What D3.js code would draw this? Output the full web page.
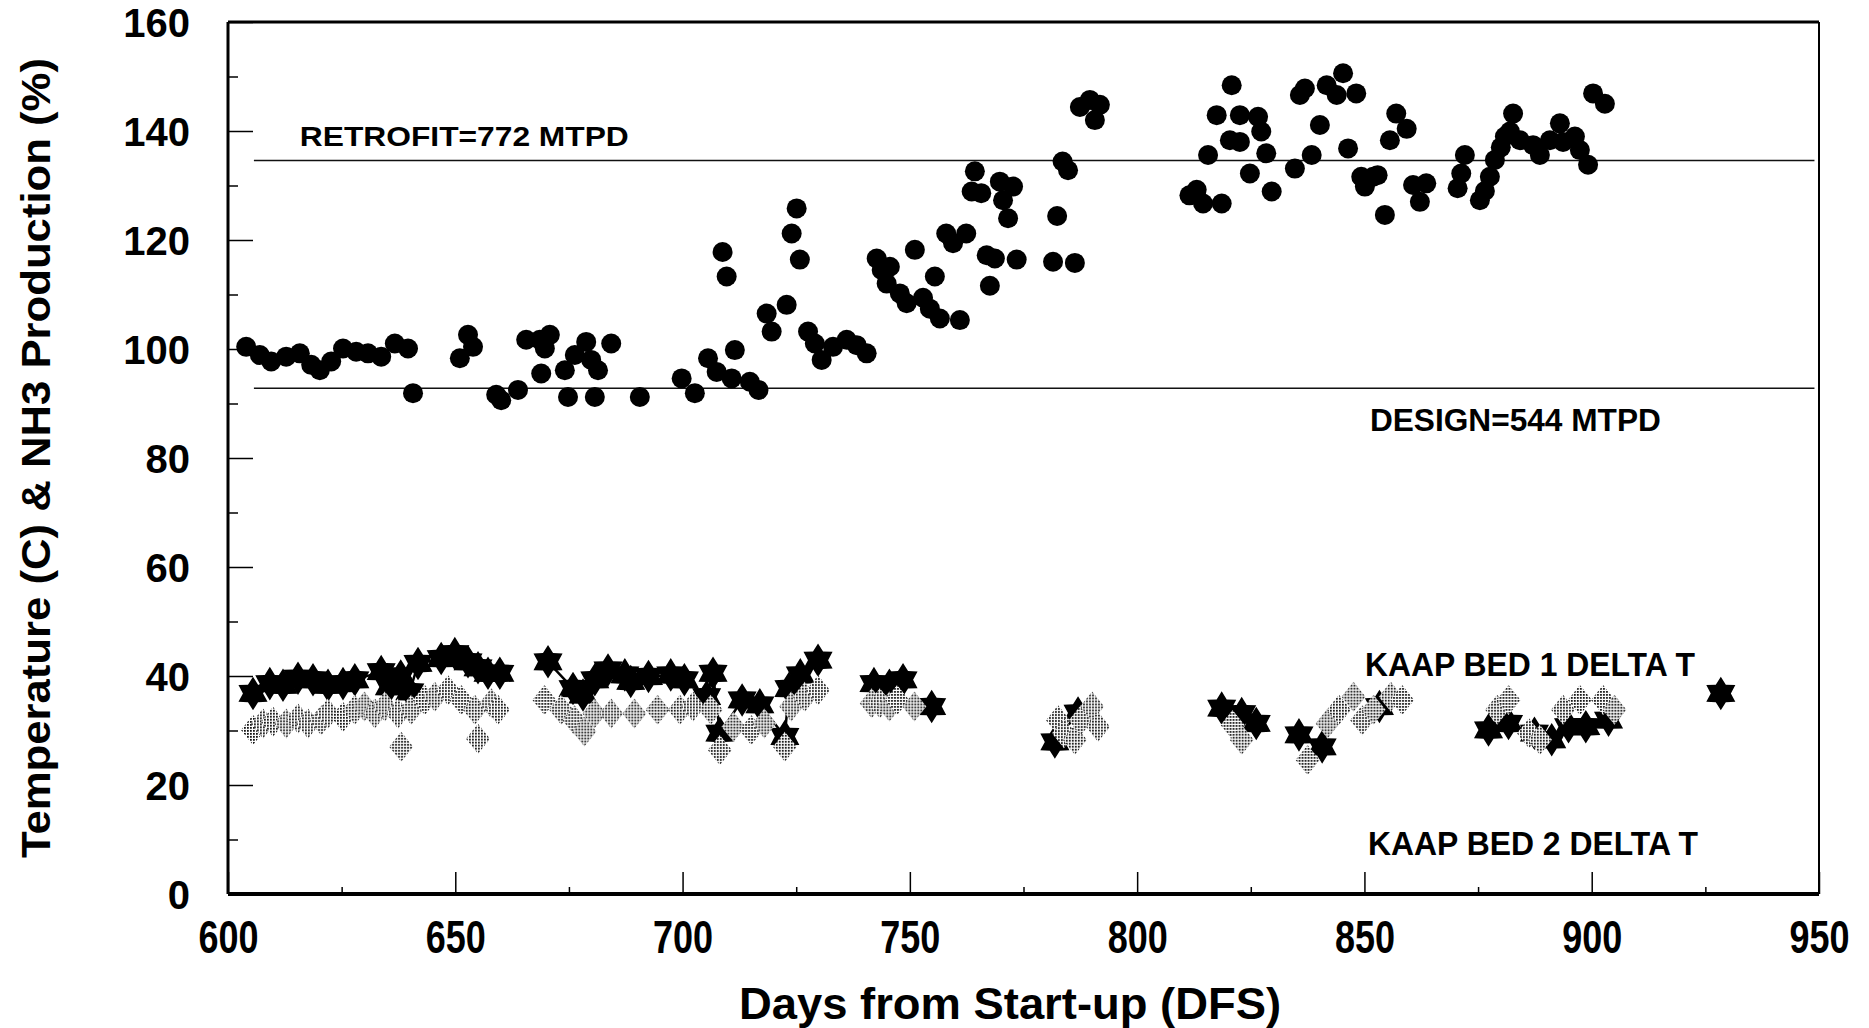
<!DOCTYPE html>
<html>
<head>
<meta charset="utf-8">
<script src="https://cdn.jsdelivr.net/npm/d3@7"></script>
<style>
  body { margin: 0; background: #fff; }
  text { font-family: "Liberation Sans", Arial, sans-serif; font-weight: bold; fill: #000; }
</style>
</head>
<body>
<div id="chart"></div>
<script>
// NH3 production (% of design), filled circles
var nh3Days = [604.0,607.0,609.5,612.8,615.8,618.3,620.2,622.7,625.3,628.2,630.8,633.7,636.7,639.6,640.7,
  651.0,652.8,653.9,659.0,660.1,663.8,665.6,668.6,668.9,669.7,670.8,674.1,674.8,676.3,678.8,679.9,680.7,681.4,684.3,
  690.6,699.8,702.7,705.6,707.5,708.8,709.7,710.8,711.5,714.8,716.7,718.5,719.6,722.9,724.0,725.1,725.8,727.6,729.1,
  730.6,733.1,736.1,738.3,740.5,742.7,743.8,744.9,745.6,747.8,749.3,751.1,752.9,754.4,755.5,756.6,758.0,759.5,761.0,
  762.4,763.6,764.3,765.7,766.9,767.6,768.7,769.8,770.5,771.6,772.7,773.5,781.5,782.4,783.6,784.8,786.3,787.4,789.6,
  790.7,791.8,811.5,813.1,814.5,815.6,817.5,818.6,820.4,820.8,822.6,822.6,824.8,826.6,827.3,828.4,829.6,834.7,835.8,
  836.9,838.4,840.2,841.7,843.9,845.3,846.4,848.2,849.3,850.1,851.9,852.9,854.5,855.6,857.0,859.3,860.7,862.2,863.6,
  870.5,871.3,872.1,875.4,876.5,877.6,878.7,880.0,880.9,882.0,882.7,884.2,887.1,888.6,890.8,893.0,893.7,896.3,897.4,
  899.2,900.3,902.9];
var nh3Values = [100.4,98.9,97.7,98.6,99.2,97.1,96.1,97.7,100.1,99.5,99.2,98.6,101.0,100.1,91.9,
  98.3,102.6,100.4,91.6,90.6,92.5,101.7,101.7,95.5,100.1,102.6,96.1,91.2,98.9,101.3,98.0,91.2,96.1,101.0,
  91.2,94.6,91.9,98.3,95.8,117.8,113.3,94.6,99.8,94.0,92.5,106.5,103.2,108.1,121.2,125.8,116.4,103.2,101.0,
  98.0,100.4,101.7,100.7,99.2,116.6,114.5,112.0,115.1,110.2,108.4,118.2,109.4,107.4,113.3,105.6,121.2,119.4,105.3,
  121.2,128.9,132.6,128.6,117.2,111.6,116.6,130.7,127.3,124.0,129.8,116.4,116.0,124.4,134.4,132.8,115.8,144.4,145.7,
  142.0,144.8,128.2,129.2,126.7,135.6,142.9,126.7,138.3,148.4,138.0,142.9,132.2,142.6,139.9,135.9,128.9,133.1,146.6,
  147.8,135.6,141.1,148.4,146.6,150.6,136.8,146.9,131.6,129.8,131.6,131.9,124.6,138.3,143.2,140.4,130.1,127.0,130.4,
  129.5,132.2,135.6,127.3,129.0,131.6,134.7,137.0,139.0,139.9,143.2,138.3,137.4,135.6,138.3,141.4,138.0,139.0,136.5,
  133.8,146.9,145.0];

// KAAP bed 1 delta T (C), black stars
var bed1Days = [605.5,609.2,612.1,615.4,618.7,622.0,625.3,627.9,633.7,635.5,638.0,640.0,641.8,646.9,649.9,652.8,655.0,
  657.2,659.8,670.4,675.9,678.1,680.7,683.6,687.3,688.6,692.5,697.4,700.4,705.3,706.7,708.2,713.1,717.0,722.5,723.4,
  725.9,729.8,742.1,745.5,748.5,754.8,781.9,787.0,818.6,823.0,826.2,835.6,840.7,853.3,877.3,881.7,887.4,891.2,894.9,
  898.7,903.7,928.4];
var bed1Values = [36.8,38.6,38.3,39.6,39.3,38.3,38.6,39.3,40.8,38.0,40.0,37.1,42.3,43.2,44.1,42.6,41.5,
  40.5,40.5,42.6,37.7,36.5,39.3,41.1,40.2,39.0,39.9,40.2,39.3,36.2,40.5,29.5,35.6,34.7,28.9,37.7,
  40.2,42.9,38.6,38.3,39.3,34.4,27.9,33.2,34.1,33.1,31.3,29.2,27.0,34.4,30.1,31.3,29.5,28.3,30.7,
  30.7,31.9,36.8];

// KAAP bed 2 delta T (C), stippled diamonds
var bed2Days = [605.5,607.7,609.9,612.8,615.4,617.6,620.5,622.0,625.3,627.9,630.0,632.3,634.5,637.4,638.1,640.3,643.3,
  645.5,648.4,651.3,654.3,655.0,657.9,659.4,669.6,673.3,676.2,678.4,680.6,684.3,689.4,694.5,699.4,702.3,706.2,708.2,
  711.2,715.1,718.0,722.5,723.9,726.9,729.8,741.6,743.4,745.5,747.2,751.0,782.6,783.9,786.3,787.6,790.1,791.4,821.0,
  823.0,837.5,841.9,844.4,847.6,849.5,852.0,855.8,858.3,879.2,881.7,886.2,888.6,893.7,897.4,902.5,905.0];
var bed2Values = [30.1,31.3,31.6,31.3,32.2,31.3,31.9,33.1,32.5,33.8,34.4,33.1,34.4,33.1,27.0,33.8,35.6,
  36.2,37.4,35.6,33.8,28.5,35.0,33.8,35.6,33.8,31.9,29.8,33.1,33.1,33.1,33.8,33.8,34.4,33.8,26.4,
  30.7,30.1,31.3,27.0,34.4,36.2,37.4,35.0,35.0,34.4,35.6,34.4,31.9,29.5,28.3,31.9,34.4,30.7,31.0,
  28.3,24.6,31.3,33.8,36.2,31.9,33.8,36.2,35.6,33.8,35.6,29.5,28.3,33.8,35.6,35.6,33.8];

// reference lines
var refNames = ["RETROFIT=772 MTPD", "DESIGN=544 MTPD"];
var refValues = [134.6, 92.8];

var xTicks = [600, 650, 700, 750, 800, 850, 900, 950];
var xMinorTicks = [625, 675, 725, 775, 825, 875, 925];
var yTicks = [0, 20, 40, 60, 80, 100, 120, 140, 160];
var yMinorTicks = [10, 30, 50, 70, 90, 110, 130, 150];

var width = 1869,
    height = 1028;

var x = d3.scaleLinear().domain([600, 950]).range([228, 1819]);
var y = d3.scaleLinear().domain([0, 160]).range([894, 22]);

var svg = d3.select("#chart")
  .append("svg")
    .attr("width", width)
    .attr("height", height);

// stipple fill for the diamonds
var pat = svg.append("defs").append("pattern")
  .attr("id", "stipple")
  .attr("patternUnits", "userSpaceOnUse")
  .attr("width", 3)
  .attr("height", 3);
pat.append("rect").attr("width", 3).attr("height", 3).attr("fill", "#fff");
pat.append("rect").attr("width", 1.8).attr("height", 1.8).attr("fill", "#111");

// y axis, ticks pointing inwards
var yAxis = svg.append("g")
  .attr("transform", "translate(" + x(600) + ",0)")
  .call(d3.axisLeft(y).tickValues(yTicks).tickSize(-25).tickSizeOuter(0).tickPadding(38));
var yMinor = svg.append("g")
  .attr("transform", "translate(" + x(600) + ",0)")
  .call(d3.axisLeft(y).tickValues(yMinorTicks).tickSize(-10).tickSizeOuter(0).tickFormat(""));

// x axis
var xAxis = svg.append("g")
  .attr("transform", "translate(0," + y(0) + ")")
  .call(d3.axisBottom(x).tickValues(xTicks).tickSize(-22).tickSizeOuter(0).tickPadding(26));
var xMinor = svg.append("g")
  .attr("transform", "translate(0," + y(0) + ")")
  .call(d3.axisBottom(x).tickValues(xMinorTicks).tickSize(-7).tickSizeOuter(0).tickFormat(""));

svg.selectAll(".domain").remove();
svg.selectAll(".tick line").attr("stroke", "#000").attr("stroke-width", 1.5);

yAxis.selectAll("text")
  .style("font-size", "40px")
  .attr("dy", "0.36em");
xAxis.selectAll("text")
  .style("font-size", "46px")
  .attr("textLength", 60)
  .attr("lengthAdjust", "spacingAndGlyphs");

// frame
svg.append("line").attr("x1", x(600)).attr("x2", x(950)).attr("y1", y(160)).attr("y2", y(160))
  .attr("stroke", "#000").attr("stroke-width", 3);
svg.append("line").attr("x1", x(600)).attr("x2", x(950)).attr("y1", y(0)).attr("y2", y(0))
  .attr("stroke", "#000").attr("stroke-width", 4);
svg.append("line").attr("x1", x(600)).attr("x2", x(600)).attr("y1", y(160)).attr("y2", y(0))
  .attr("stroke", "#000").attr("stroke-width", 3);
svg.append("line").attr("x1", x(950)).attr("x2", x(950)).attr("y1", y(160)).attr("y2", y(0))
  .attr("stroke", "#000").attr("stroke-width", 2);

// design / retrofit lines
svg.selectAll("refLines")
  .data(refValues)
  .enter()
  .append("line")
    .attr("x1", x(605.7))
    .attr("x2", x(949))
    .attr("y1", function(d) { return y(d) })
    .attr("y2", function(d) { return y(d) })
    .attr("stroke", "#111")
    .attr("stroke-width", 1.5);

// bed 1 stars, joined where readings are consecutive
var bed1 = bed1Days.map(function(d, i) { return {day: d, val: bed1Values[i]} });
var bed1Gapped = [];
bed1.forEach(function(d, i) {
  if (i > 0 && d.day - bed1[i - 1].day > 6) bed1Gapped.push(null);
  bed1Gapped.push(d);
});
var line = d3.line()
  .defined(function(d) { return d != null })
  .x(function(d) { return x(d.day) })
  .y(function(d) { return y(d.val) });
svg.append("path")
  .datum(bed1Gapped)
  .attr("d", line)
  .attr("fill", "none")
  .attr("stroke", "#000")
  .attr("stroke-width", 2.5);

// six pointed star, closer to the plotter's marker than d3.symbolStar
var star6 = {
  draw: function(context, size) {
    var r = Math.sqrt(size / 2.2), ri = r * 0.6;
    for (var k = 0; k < 12; k++) {
      var a = Math.PI / 6 * k - Math.PI / 2;
      var rr = k % 2 ? ri : r;
      if (k == 0) context.moveTo(rr * Math.cos(a), rr * Math.sin(a));
      else context.lineTo(rr * Math.cos(a), rr * Math.sin(a));
    }
    context.closePath();
  }
};
var star = d3.symbol().type(star6).size(620);
svg.selectAll("allStars")
  .data(bed1)
  .enter()
  .append("path")
    .attr("d", star)
    .attr("transform", function(d) { return "translate(" + x(d.day) + "," + y(d.val) + ")" })
    .attr("fill", "#000");

// bed 2 diamonds (a bit wider than the d3 default)
var wideDiamond = {
  draw: function(context, size) {
    var a = Math.sqrt(size / 1.6), b = a * 0.8;
    context.moveTo(0, -a);
    context.lineTo(b, 0);
    context.lineTo(0, a);
    context.lineTo(-b, 0);
    context.closePath();
  }
};
var diamond = d3.symbol().type(wideDiamond).size(360);
svg.selectAll("allDiamonds")
  .data(bed2Days)
  .enter()
  .append("path")
    .attr("d", diamond)
    .attr("transform", function(d, i) { return "translate(" + x(d) + "," + y(bed2Values[i]) + ")" })
    .attr("fill", "url(#stipple)");

// NH3 circles
svg.selectAll("allDots")
  .data(nh3Days)
  .enter()
  .append("circle")
    .attr("cx", function(d) { return x(d) })
    .attr("cy", function(d, i) { return y(nh3Values[i]) })
    .attr("r", 10)
    .attr("fill", "#000");

// labels
svg.append("text")
  .attr("x", x(615.8)).attr("y", y(137.2))
  .style("font-size", "28px")
  .attr("textLength", 329).attr("lengthAdjust", "spacingAndGlyphs")
  .text(refNames[0]);
svg.append("text")
  .attr("x", x(851.2)).attr("y", y(85))
  .style("font-size", "32px")
  .attr("textLength", 291).attr("lengthAdjust", "spacingAndGlyphs")
  .text(refNames[1]);
svg.append("text")
  .attr("x", x(850.1)).attr("y", y(40))
  .style("font-size", "33px")
  .attr("textLength", 330).attr("lengthAdjust", "spacingAndGlyphs")
  .text("KAAP BED 1 DELTA T");
svg.append("text")
  .attr("x", x(850.8)).attr("y", y(7.2))
  .style("font-size", "33px")
  .attr("textLength", 330).attr("lengthAdjust", "spacingAndGlyphs")
  .text("KAAP BED 2 DELTA T");

// axis titles
svg.append("text")
  .attr("transform", "translate(50," + y(80) + ") rotate(-90)")
  .attr("text-anchor", "middle")
  .style("font-size", "40px")
  .attr("textLength", 800).attr("lengthAdjust", "spacingAndGlyphs")
  .text("Temperature (C) & NH3 Production (%)");
svg.append("text")
  .attr("x", 1010).attr("y", 1019)
  .attr("text-anchor", "middle")
  .style("font-size", "44px")
  .attr("textLength", 542).attr("lengthAdjust", "spacingAndGlyphs")
  .text("Days from Start-up (DFS)");
</script>
</body>
</html>
